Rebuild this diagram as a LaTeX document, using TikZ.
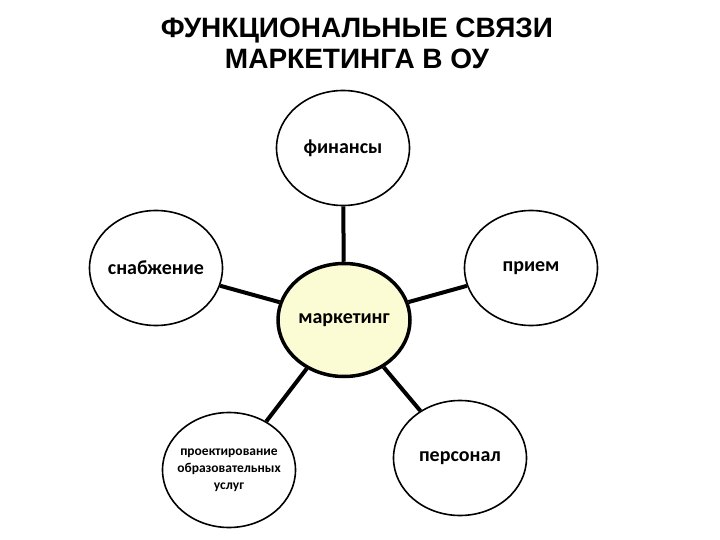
\documentclass[tikz,border=0pt]{standalone}
\usepackage{fontspec}
\setmainfont{Carlito}
\newfontfamily\headfont{Liberation Sans}
\usetikzlibrary{shapes.geometric}
\definecolor{corefill}{RGB}{252,252,212}

\begin{document}
\begin{tikzpicture}[x=1pt, y=-1pt]
	\tikzset{
		unit/.style={ellipse, draw, line width=1.6pt, fill=white, inner ysep=0, inner xsep=-20pt,
				minimum width=133pt, minimum height=115pt, align=center,
				font=\bfseries\fontsize{20}{24}\selectfont},
		core/.style={unit, line width=3.5pt, fill=corefill,
				minimum width=132pt, minimum height=113pt},
		link/.style={line width=4pt}
	}
	\useasboundingbox (0,0) rectangle (720,540);

	\node[font=\headfont\bfseries\fontsize{28}{31}\selectfont, align=center] (title) at (357,43)
	{ФУНКЦИОНАЛЬНЫЕ СВЯЗИ\\МАРКЕТИНГА В ОУ};

	\node[core] (market) at (344,320) {маркетинг};
	\node[unit] (finance) at (343,148) {финансы};
	\node[unit] (supply) at (156,268) {снабжение};
	\node[unit] (intake) at (531,268) {прием};
	\node[unit, font=\bfseries\fontsize{13.5}{17}\selectfont] (design) at (229,470)
	{проектирование\\образовательных\\услуг};
	\node[unit] (staff) at (460,458) {персонал};

	\foreach \n in {finance, supply, intake, design, staff}
		{
			\draw[link] (market) -- (\n);
		}

\end{tikzpicture}
\end{document}
